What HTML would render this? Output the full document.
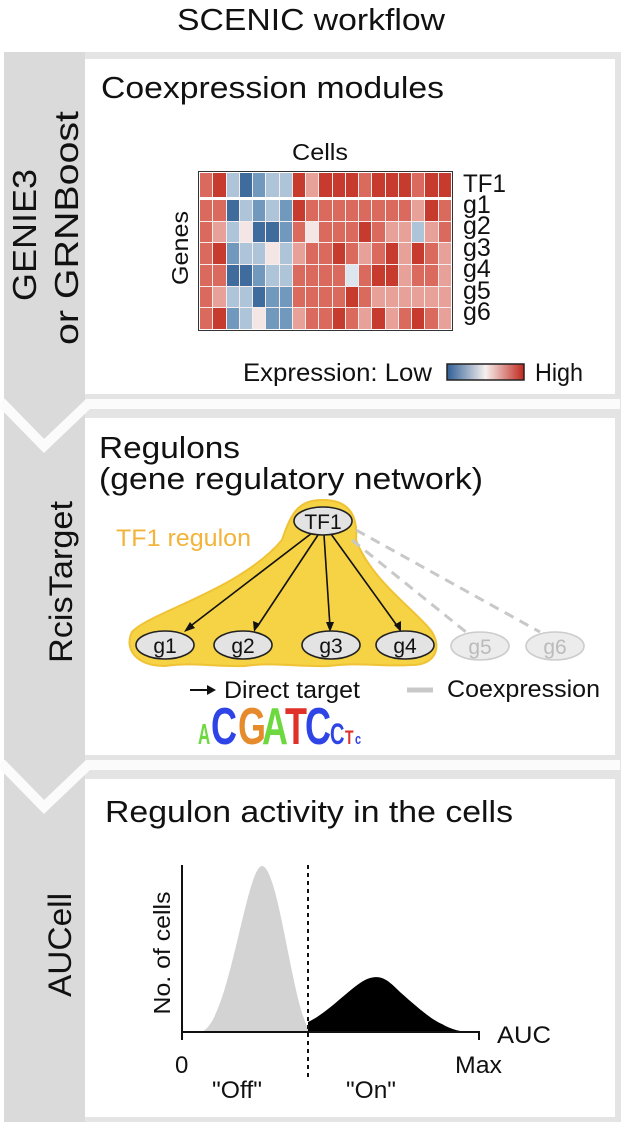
<!DOCTYPE html>
<html><head><meta charset="utf-8"><style>
*{margin:0;padding:0}
body{width:622px;height:1125px;background:#fff;position:relative;overflow:hidden;font-family:"Liberation Sans",sans-serif;color:#111}
.hm{position:absolute;display:grid;grid-template-columns:repeat(19,1fr);gap:1px;background:#f6eeee}
.hm i{display:block}
.R{background:#c73a2e}.r{background:#d96a5d}.p{background:#e8a198}.w{background:#f4e6e4}.b{background:#aec4d8}.B{background:#7198bd}.D{background:#3f6c9c}.v{background:#dde6ee}
</style></head><body>
<svg width="622" height="1125" style="position:absolute;left:0;top:0" font-family="Liberation Sans, sans-serif" fill="#111">
<text x="177" y="30" font-size="31" textLength="268" lengthAdjust="spacingAndGlyphs">SCENIC workflow</text>
<rect x="4" y="52" width="617" height="1070" fill="#e4e4e4"/>
<rect x="4" y="52" width="81" height="1070" fill="#dadada"/>
<rect x="85" y="59" width="530" height="335" fill="#fff"/>
<rect x="85" y="418" width="530" height="337" fill="#fff"/>
<rect x="85" y="779" width="530" height="338" fill="#fff"/>
<polyline points="1,402 44,446 88,404 620,404" fill="none" stroke="#fbfbfb" stroke-width="10"/>
<polyline points="1,763 44,807 88,765 620,765" fill="none" stroke="#fbfbfb" stroke-width="10"/>
<text transform="translate(36,235) rotate(-90)" font-size="33" text-anchor="middle" textLength="132" lengthAdjust="spacingAndGlyphs">GENIE3</text>
<text transform="translate(78,228) rotate(-90)" font-size="33" text-anchor="middle" textLength="234" lengthAdjust="spacingAndGlyphs">or GRNBoost</text>
<text transform="translate(72,582) rotate(-90)" font-size="32" text-anchor="middle" textLength="162" lengthAdjust="spacingAndGlyphs">RcisTarget</text>
<text transform="translate(71,945) rotate(-90)" font-size="32" text-anchor="middle" textLength="104" lengthAdjust="spacingAndGlyphs">AUCell</text>
<text x="101" y="98" font-size="31" textLength="343" lengthAdjust="spacingAndGlyphs">Coexpression modules</text>
<text x="292" y="160" font-size="23" textLength="56" lengthAdjust="spacingAndGlyphs">Cells</text>
<text transform="translate(188,248) rotate(-90)" font-size="23" text-anchor="middle" textLength="74" lengthAdjust="spacingAndGlyphs">Genes</text>
<g font-size="25"><text x="463" y="192" textLength="43" lengthAdjust="spacingAndGlyphs">TF1</text><text x="463" y="213">g1</text><text x="463" y="234">g2</text><text x="463" y="256">g3</text><text x="463" y="277">g4</text><text x="463" y="299">g5</text><text x="463" y="320">g6</text></g>
<text x="243" y="381" font-size="25" textLength="189" lengthAdjust="spacingAndGlyphs">Expression:  Low</text>
<defs><linearGradient id="gr"><stop offset="0" stop-color="#2f5f96"/><stop offset="0.5" stop-color="#f6f0ee"/><stop offset="1" stop-color="#c0281e"/></linearGradient></defs>
<rect x="447" y="364" width="77" height="16" fill="url(#gr)" stroke="#222" stroke-width="1.5"/>
<text x="535" y="381" font-size="25" textLength="48" lengthAdjust="spacingAndGlyphs">High</text>
<text x="99" y="458" font-size="31" textLength="141" lengthAdjust="spacingAndGlyphs">Regulons</text>
<text x="99" y="489" font-size="31" textLength="384" lengthAdjust="spacingAndGlyphs">(gene regulatory network)</text>
<path d="M132,632 C150,612 240,590 282,540 C292,510 300,500 323,500 C348,500 358,514 356,540 C372,582 418,612 432,632 C442,648 435,665 412,665 C380,667 360,662 328,666 C300,667 270,662 245,666 C215,667 195,662 165,666 C135,666 124,648 132,632 Z" fill="#f6d245" stroke="#efc335" stroke-width="2"/>
<text x="116" y="546" font-size="24" fill="#f2b43a" textLength="135" lengthAdjust="spacingAndGlyphs">TF1 regulon</text>
<g stroke="#c8c8c8" stroke-width="3" stroke-dasharray="10,7" fill="none"><line x1="352" y1="540" x2="466" y2="632"/><line x1="356" y1="530" x2="540" y2="632"/></g>
<g stroke="#111" stroke-width="1.6" fill="none"><line x1="312" y1="533" x2="188" y2="628"/><line x1="318" y1="535" x2="257" y2="627"/><line x1="324" y1="535" x2="330" y2="627"/><line x1="331" y1="534" x2="398" y2="627"/></g>
<g fill="#111"><polygon points="184,632 190,622 195,628"/><polygon points="254,632 253,621 260,624"/><polygon points="330,632 326,622 334,622"/><polygon points="401,632 394,625 401,621"/></g>
<g stroke="#222" stroke-width="1.6" fill="#e3e3e3"><ellipse cx="323" cy="521" rx="29" ry="14"/><ellipse cx="165" cy="645" rx="29" ry="14"/><ellipse cx="243" cy="645" rx="29" ry="14"/><ellipse cx="331" cy="645" rx="29" ry="14"/><ellipse cx="405" cy="645" rx="29" ry="14"/></g>
<g stroke="#ccc" stroke-width="1.6" fill="#ececec"><ellipse cx="480" cy="646" rx="29" ry="14"/><ellipse cx="555" cy="646" rx="29" ry="14"/></g>
<g font-size="21" text-anchor="middle" fill="#111"><text x="323" y="529">TF1</text><text x="165" y="653">g1</text><text x="243" y="653">g2</text><text x="331" y="653">g3</text><text x="405" y="653">g4</text></g>
<g font-size="21" text-anchor="middle" fill="#bbb"><text x="480" y="654">g5</text><text x="555" y="654">g6</text></g>
<line x1="190" y1="690" x2="210" y2="690" stroke="#111" stroke-width="2"/><polygon points="216,690 207,685 207,695" fill="#111"/>
<text x="224" y="698" font-size="24" textLength="136" lengthAdjust="spacingAndGlyphs">Direct target</text>
<line x1="407" y1="690" x2="433" y2="690" stroke="#c8c8c8" stroke-width="5"/>
<text x="447" y="697" font-size="24" textLength="153" lengthAdjust="spacingAndGlyphs">Coexpression</text>
<g font-weight="bold" font-family="Liberation Sans, sans-serif">
<text transform="translate(198,744) scale(1,1.7)" font-size="17" fill="#6ed840" textLength="14">A</text>
<text transform="translate(211,744) scale(1,1.45)" font-size="36" fill="#2f44e6" textLength="27">C</text>
<text transform="translate(238,744) scale(1,1.45)" font-size="36" fill="#e58b2c" textLength="25">G</text>
<text transform="translate(262,744) scale(1,1.45)" font-size="36" fill="#6ed840" textLength="24">A</text>
<text transform="translate(285,744) scale(1,1.45)" font-size="36" fill="#e0302a" textLength="21">T</text>
<text transform="translate(305,744) scale(1,1.45)" font-size="36" fill="#2f44e6" textLength="25">C</text>
<text transform="translate(330,744) scale(1,1.5)" font-size="20" fill="#2f44e6" textLength="15">C</text>
<text transform="translate(345,744) scale(1,1.4)" font-size="14" fill="#e0302a" textLength="10">T</text>
<text transform="translate(355,744) scale(1,1.3)" font-size="11" fill="#2f44e6" textLength="12">c</text>
</g>
<text x="105" y="822" font-size="31" textLength="408" lengthAdjust="spacingAndGlyphs">Regulon activity in the cells</text>
<path d="M200,1032 C228,1030 246,866 262,866 C278,866 292,1000 308,1028 L308,1032 Z" fill="#d3d3d3"/>
<path d="M308,1032 L308,1022 C330,1012 355,982 370,978 C382,975 388,980 400,992 C418,1008 432,1020 442,1024 C452,1030 462,1032 470,1032 Z" fill="#000"/>
<polyline points="182,865 182,1040" fill="none" stroke="#111" stroke-width="2"/>
<polyline points="182,1032 479,1032 479,1040" fill="none" stroke="#111" stroke-width="2"/>
<line x1="308" y1="865" x2="308" y2="1078" stroke="#111" stroke-width="2" stroke-dasharray="4,4"/>
<text transform="translate(170,953) rotate(-90)" font-size="23" text-anchor="middle" textLength="123" lengthAdjust="spacingAndGlyphs">No. of cells</text>
<text x="497" y="1043" font-size="24" textLength="54" lengthAdjust="spacingAndGlyphs">AUC</text>
<text x="175" y="1073" font-size="24">0</text>
<text x="455" y="1073" font-size="24" textLength="47" lengthAdjust="spacingAndGlyphs">Max</text>
<text x="212" y="1098" font-size="24" textLength="50" lengthAdjust="spacingAndGlyphs">"Off"</text>
<text x="346" y="1098" font-size="24" textLength="50" lengthAdjust="spacingAndGlyphs">"On"</text>
</svg>
<div style="position:absolute;left:198px;top:171px;width:255px;height:160px;border:1.5px solid #333;background:#fff;box-sizing:border-box"></div>
<div class="hm" style="left:200px;top:173px;width:251px;height:24px">
<i class="r"></i><i class="R"></i><i class="b"></i><i class="D"></i><i class="B"></i><i class="b"></i><i class="b"></i><i class="R"></i><i class="p"></i><i class="R"></i><i class="R"></i><i class="R"></i><i class="r"></i><i class="R"></i><i class="R"></i><i class="R"></i><i class="r"></i><i class="R"></i><i class="R"></i>
</div>
<div class="hm" style="left:200px;top:200px;width:251px;height:129px;grid-template-rows:repeat(6,1fr)">
<i class="r"></i><i class="r"></i><i class="D"></i><i class="b"></i><i class="B"></i><i class="b"></i><i class="B"></i><i class="R"></i><i class="r"></i><i class="r"></i><i class="r"></i><i class="r"></i><i class="r"></i><i class="r"></i><i class="r"></i><i class="r"></i><i class="p"></i><i class="R"></i><i class="r"></i>
<i class="r"></i><i class="p"></i><i class="b"></i><i class="w"></i><i class="D"></i><i class="D"></i><i class="B"></i><i class="r"></i><i class="w"></i><i class="r"></i><i class="r"></i><i class="r"></i><i class="R"></i><i class="r"></i><i class="p"></i><i class="p"></i><i class="b"></i><i class="p"></i><i class="r"></i>
<i class="r"></i><i class="R"></i><i class="B"></i><i class="b"></i><i class="b"></i><i class="w"></i><i class="b"></i><i class="p"></i><i class="r"></i><i class="r"></i><i class="R"></i><i class="r"></i><i class="p"></i><i class="r"></i><i class="R"></i><i class="p"></i><i class="R"></i><i class="r"></i><i class="p"></i>
<i class="r"></i><i class="r"></i><i class="D"></i><i class="D"></i><i class="B"></i><i class="b"></i><i class="b"></i><i class="r"></i><i class="r"></i><i class="r"></i><i class="r"></i><i class="v"></i><i class="r"></i><i class="R"></i><i class="R"></i><i class="p"></i><i class="r"></i><i class="r"></i><i class="p"></i>
<i class="r"></i><i class="p"></i><i class="b"></i><i class="b"></i><i class="D"></i><i class="B"></i><i class="B"></i><i class="r"></i><i class="r"></i><i class="r"></i><i class="r"></i><i class="R"></i><i class="r"></i><i class="p"></i><i class="p"></i><i class="p"></i><i class="p"></i><i class="p"></i><i class="p"></i>
<i class="r"></i><i class="R"></i><i class="B"></i><i class="b"></i><i class="w"></i><i class="B"></i><i class="B"></i><i class="p"></i><i class="r"></i><i class="r"></i><i class="R"></i><i class="r"></i><i class="p"></i><i class="R"></i><i class="p"></i><i class="r"></i><i class="R"></i><i class="r"></i><i class="p"></i>
</div>
</body></html>
